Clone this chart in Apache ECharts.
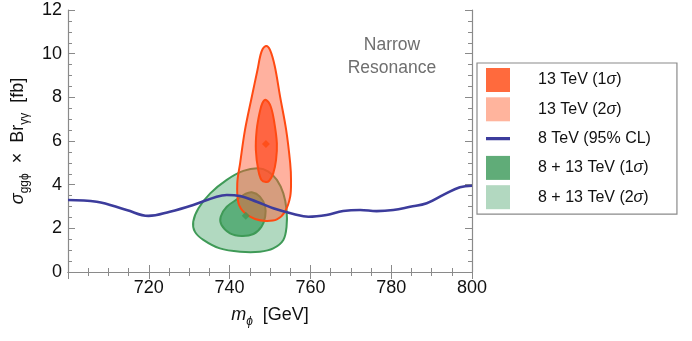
<!DOCTYPE html>
<html>
<head>
<meta charset="utf-8">
<script src="https://cdn.jsdelivr.net/npm/echarts@6/dist/echarts.min.js"></script>
<style>
html, body { margin: 0; padding: 0; background: #fff; }
#main { width: 692px; height: 341px; }
</style>
</head>
<body>
<div id="main"></div>
<script>
// axis ranges
var xRange = [700, 800];
var yRange = [0, 12];

// legend entries
var names = ['13 TeV (1σ)', '13 TeV (2σ)', '8 TeV (95% CL)', '8 + 13 TeV (1σ)', '8 + 13 TeV (2σ)'];

// 8 TeV 95% CL limit curve [m, sigma x Br]
var limit8 = [
    [700, 3.30], [707.1, 3.22], [714.5, 2.84], [719.9, 2.57], [725.2, 2.76],
    [731.0, 3.07], [736.8, 3.45], [739.3, 3.53], [742.6, 3.48], [746.7, 3.22],
    [750.8, 2.92], [755.8, 2.66], [759.5, 2.53], [764.0, 2.61], [768.1, 2.79],
    [772.3, 2.84], [776.4, 2.79], [780.5, 2.84], [784.7, 2.99], [788.8, 3.15],
    [792.9, 3.53], [797.0, 3.88], [800, 3.95]
];

// 13 TeV contours
var orange2 = [
    [749.0, 10.35], [750.0, 10.17], [751.2, 9.41], [752.5, 8.03], [754.0, 6.51],
    [755.0, 4.98], [755.2, 4.22], [755.0, 3.45], [753.7, 2.76], [751.7, 2.41],
    [749.0, 2.34], [746.3, 2.43], [743.8, 2.69], [742.2, 3.15], [741.9, 4.06],
    [742.6, 4.98], [743.8, 6.50], [745.5, 8.03], [746.9, 9.25], [747.9, 10.09]
];
var orange1 = [
    [749.0, 7.88], [750.2, 7.57], [751.1, 6.81], [751.7, 5.89], [751.5, 5.13],
    [750.8, 4.52], [749.8, 4.18], [749.0, 4.12], [747.9, 4.21], [747.1, 4.67],
    [746.5, 5.59], [746.7, 6.50], [747.4, 7.27], [748.1, 7.73]
];
var orangeBest = [[749.0, 5.86]];

// 8 + 13 TeV contours
var green2 = [
    [747.1, 4.75], [749.6, 4.60], [751.7, 4.22], [753.3, 3.60], [754.1, 2.84],
    [754.1, 2.08], [753.3, 1.47], [750.8, 1.08], [747.5, 0.93], [742.6, 0.93],
    [737.6, 1.08], [733.5, 1.47], [731.4, 1.85], [731.0, 2.31], [732.3, 2.92],
    [735.2, 3.60], [739.3, 4.22], [743.4, 4.63]
];
var green1 = [
    [745.5, 3.65], [747.5, 3.45], [748.8, 2.99], [748.8, 2.53], [747.9, 2.08],
    [745.9, 1.74], [743.0, 1.65], [740.1, 1.77], [738.0, 2.15], [737.8, 2.53],
    [739.3, 2.99], [742.2, 3.37], [743.8, 3.57]
];
var greenBest = [[744.0, 2.58]];

var font = 'Liberation Sans, Arial, sans-serif';
var frameColor = '#8a8a8a';

function region(name, pts, swatch, fill, stroke, z) {
    return {
        name: name,
        type: 'custom',
        z: z,
        silent: true,
        itemStyle: { color: swatch },
        data: [pts[0]],
        renderItem: function (params, api) {
            return {
                type: 'polygon',
                shape: {
                    points: pts.map(function (p) { return api.coord(p); }),
                    smooth: 0.35
                },
                style: { fill: fill, stroke: stroke, lineWidth: 2 }
            };
        }
    };
}

function legendText(name) {
    var i = name.indexOf('σ');
    if (i < 0) return '{a|' + name + '}';
    return '{a|' + name.slice(0, i) + '}{i|σ}{a|' + name.slice(i + 1) + '}';
}

var myChart = echarts.init(document.getElementById('main'));
var option = {
    animation: false,
    textStyle: { fontFamily: font },
    grid: { left: 68, right: 220, top: 10, bottom: 69 },
    xAxis: [
        {
            type: 'value', min: xRange[0], max: xRange[1], interval: 20,
            name: '{m|m}{s|ϕ}{a|  [GeV]}',
            nameLocation: 'middle', nameGap: 30,
            nameTextStyle: {
                rich: {
                    m: { fontSize: 18, fontStyle: 'italic', color: '#111', fontFamily: font, lineHeight: 26, verticalAlign: 'middle' },
                    s: { fontSize: 12, fontStyle: 'italic', color: '#111', fontFamily: font, verticalAlign: 'bottom', lineHeight: 26 },
                    a: { fontSize: 18, color: '#111', fontFamily: font, lineHeight: 26, verticalAlign: 'middle' }
                }
            },
            axisLine: { lineStyle: { color: frameColor, width: 1.2 } },
            axisTick: { inside: true, length: 7, lineStyle: { color: frameColor } },
            minorTick: { show: true, splitNumber: 4, length: 4, lineStyle: { color: frameColor } },
            axisLabel: {
                fontSize: 18, color: '#111', margin: 7, fontFamily: font,
                formatter: function (v) { return v === xRange[0] ? '' : String(v); }
            },
            splitLine: { show: false }
        },
        {
            type: 'value', position: 'top', min: xRange[0], max: xRange[1], interval: 20,
            axisLine: { lineStyle: { color: frameColor, width: 1.2 } },
            axisTick: { inside: true, length: 7, lineStyle: { color: frameColor } },
            minorTick: { show: true, splitNumber: 4, length: 4, lineStyle: { color: frameColor } },
            axisLabel: { show: false },
            splitLine: { show: false }
        }
    ],
    yAxis: [
        {
            type: 'value', min: yRange[0], max: yRange[1], interval: 2,
            name: '{g|σ}{s|ggϕ}{a|  ×  Br}{s|γγ}{a|  [fb]}',
            nameLocation: 'middle', nameGap: 35, nameRotate: 90,
            nameTextStyle: {
                rich: {
                    g: { fontSize: 18, fontStyle: 'italic', color: '#111', fontFamily: font, lineHeight: 26, verticalAlign: 'middle' },
                    s: { fontSize: 12, color: '#111', fontFamily: font, verticalAlign: 'bottom', lineHeight: 26 },
                    a: { fontSize: 18, color: '#111', fontFamily: font, lineHeight: 26, verticalAlign: 'middle' }
                }
            },
            axisLine: { show: true, lineStyle: { color: frameColor, width: 1.2 } },
            axisTick: { show: true, inside: true, length: 7, lineStyle: { color: frameColor } },
            minorTick: { show: true, splitNumber: 4, length: 4, lineStyle: { color: frameColor } },
            axisLabel: { fontSize: 18, color: '#111', margin: 6, fontFamily: font },
            splitLine: { show: false }
        },
        {
            type: 'value', position: 'right', min: yRange[0], max: yRange[1], interval: 2,
            axisLine: { show: true, lineStyle: { color: frameColor, width: 1.2 } },
            axisTick: { show: true, inside: true, length: 7, lineStyle: { color: frameColor } },
            minorTick: { show: true, splitNumber: 4, length: 4, lineStyle: { color: frameColor } },
            axisLabel: { show: false },
            splitLine: { show: false }
        }
    ],
    legend: {
        orient: 'vertical',
        left: 477, top: 63,
        padding: [5, 26, 5, 9],
        itemGap: 5.3,
        itemWidth: 24, itemHeight: 24,
        borderColor: '#8a8a8a', borderWidth: 1.2,
        selectedMode: false,
        data: [
            { name: names[0], icon: 'rect' },
            { name: names[1], icon: 'rect' },
            { name: names[2], icon: 'path://M0,0L0,0ZM0,10.3L24,10.3L24,13.7L0,13.7ZM0,24L0,24Z' },
            { name: names[3], icon: 'rect' },
            { name: names[4], icon: 'rect' }
        ],
        formatter: legendText,
        textStyle: {
            padding: [0, 0, 0, 23],
            rich: {
                a: { fontSize: 16, color: '#111', fontFamily: font },
                i: { fontSize: 16, color: '#111', fontFamily: font, fontStyle: 'italic' }
            }
        }
    },
    graphic: [{
        type: 'text', x: 392, y: 34, silent: true,
        style: {
            text: 'Narrow\nResonance', align: 'center', textAlign: 'center',
            fontSize: 17.5, lineHeight: 23, fill: '#6f6f6f', fontFamily: font
        }
    }],
    series: [
        region(names[4], green2, '#b2d8c0', 'rgba(40,150,80,0.36)', '#3f9a57', 2),
        region(names[3], green1, '#60ac78', 'rgba(40,150,80,0.62)', '#3f9a57', 3),
        region(names[1], orange2, '#ffb49d', 'rgba(255,90,50,0.47)', '#ff4a12', 4),
        region(names[0], orange1, '#ff6a3d', 'rgba(255,80,40,0.78)', '#ff4a12', 5),
        {
            name: 'best13', type: 'scatter', z: 6, symbol: 'diamond', symbolSize: 8,
            itemStyle: { color: '#ff4a12' }, data: orangeBest, silent: true
        },
        {
            name: 'best813', type: 'scatter', z: 6, symbol: 'diamond', symbolSize: 8,
            itemStyle: { color: '#3f9a57' }, data: greenBest, silent: true
        },
        {
            name: names[2], type: 'line', z: 7, smooth: 0.4, symbol: 'none',
            lineStyle: { color: '#3c3c9c', width: 2.6 },
            itemStyle: { color: '#3c3c9c' },
            data: limit8, silent: true
        }
    ]
};
myChart.setOption(option);
</script>
</body>
</html>
